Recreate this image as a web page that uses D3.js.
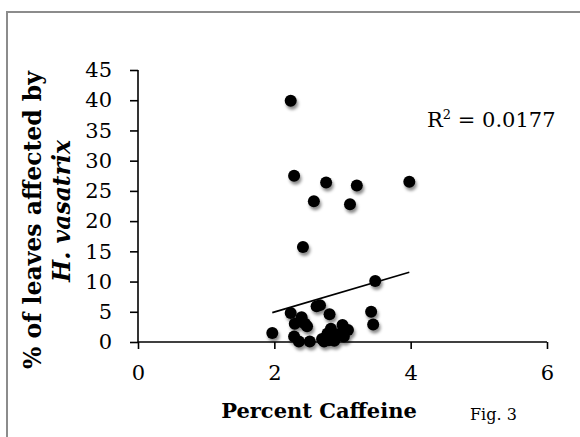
<!DOCTYPE html>
<html>
<head>
<meta charset="utf-8">
<script src="https://cdn.jsdelivr.net/npm/d3@7"></script>
<style>
  html, body { margin: 0; padding: 0; background: #fff; }
  svg { display: block; }
</style>
</head>
<body>
<div id="chart"></div>
<script>
// values
const caffeine = [2.24, 2.29, 2.76, 3.21, 3.98, 2.58, 3.11, 2.42, 3.48, 2.62, 2.67,
  2.24, 2.81, 3.42, 3.45, 1.97, 2.40, 2.30, 2.41, 2.48, 2.45, 2.29, 2.36, 2.52,
  3.00, 3.08, 2.83, 2.78, 2.73, 2.80, 2.85, 2.90, 2.97, 2.76, 2.88, 3.02, 2.70];
const affected = [39.9, 27.5, 26.4, 25.9, 26.5, 23.3, 22.8, 15.7, 10.1, 5.9, 6.1,
  4.8, 4.6, 5.0, 2.9, 1.5, 4.1, 3.0, 3.3, 2.6, 3.0, 0.9, 0.1, 0.1,
  2.8, 2.0, 2.2, 1.4, 0.1, 0.3, 0.6, 1.1, 1.4, 0.8, 0.2, 0.9, 0.5];
const xTicks = [0, 2, 4, 6];
const yTicks = [0, 5, 10, 15, 20, 25, 30, 35, 40, 45];
// linear trendline shown in the figure, over the data's x range
const trendSlope = 3.33;
const trendIntercept = -1.7;
const rSquared = "0.0177";

const width = 580, height = 437;
const margin = { top: 70, right: 33, bottom: 95, left: 138 };
const font = "'DejaVu Serif', 'Liberation Serif', serif";

const points = caffeine.map((c, i) => ({ x: c, y: affected[i] }));

const x = d3.scaleLinear().domain([0, 6]).range([margin.left, width - margin.right]);
const y = d3.scaleLinear().domain([0, 45]).range([height - margin.bottom, margin.top]);

const svg = d3.select("#chart").append("svg")
  .attr("width", width)
  .attr("height", height)
  .attr("font-family", font);

// drop shadow under the markers
const shadow = svg.append("defs").append("filter")
  .attr("id", "shadow")
  .attr("x", "-50%").attr("y", "-50%")
  .attr("width", "200%").attr("height", "200%");
shadow.append("feDropShadow")
  .attr("dx", 1.5).attr("dy", 3)
  .attr("stdDeviation", 1.6)
  .attr("flood-color", "#000")
  .attr("flood-opacity", 0.45);

// outer frame (only top and left edges show)
svg.append("path")
  .attr("d", `M7,${height} V12 H${width}`)
  .attr("fill", "none")
  .attr("stroke", "#8c8c8c")
  .attr("stroke-width", 2);

// axes
const xAxis = svg.append("g")
  .attr("transform", `translate(0,${y(0)})`)
  .call(d3.axisBottom(x).tickValues(xTicks).tickFormat(d3.format("d"))
    .tickSize(7).tickPadding(16));

const yAxis = svg.append("g")
  .attr("transform", `translate(${x(0)},0)`)
  .call(d3.axisLeft(y).tickValues(yTicks).tickFormat(d3.format("d"))
    .tickSize(8).tickPadding(18));

[xAxis, yAxis].forEach(g => {
  g.select(".domain").attr("stroke", "#000").attr("stroke-width", 1.6);
  g.selectAll(".tick line").attr("stroke", "#000").attr("stroke-width", 1.6);
  g.selectAll(".tick text")
    .attr("fill", "#000")
    .attr("font-size", 21)
    .attr("font-family", font);
});
xAxis.select(".domain").attr("d", `M${x(0)},0H${x(6)}`);
yAxis.select(".domain").attr("d", `M0,${y(45)}V${y(0)}`);

// points
svg.append("g")
  .attr("filter", "url(#shadow)")
  .selectAll("circle")
  .data(points)
  .join("circle")
  .attr("cx", d => x(d.x))
  .attr("cy", d => y(d.y))
  .attr("r", 6)
  .attr("fill", "#000");

// trendline
const [xmin, xmax] = d3.extent(caffeine);
svg.append("line")
  .attr("x1", x(xmin)).attr("y1", y(trendSlope * xmin + trendIntercept))
  .attr("x2", x(xmax)).attr("y2", y(trendSlope * xmax + trendIntercept))
  .attr("stroke", "#000")
  .attr("stroke-width", 1.6);

// R squared label
const r2 = svg.append("text")
  .attr("x", 427).attr("y", 127)
  .attr("font-size", 21)
  .attr("fill", "#000");
r2.append("tspan").text("R");
r2.append("tspan").attr("font-size", 13).attr("dy", -8).text("2");
r2.append("tspan").attr("dy", 8).text(" = " + rSquared);

// axis titles
svg.append("text")
  .attr("x", 319).attr("y", 418)
  .attr("text-anchor", "middle")
  .attr("font-size", 21)
  .attr("font-weight", "bold")
  .text("Percent Caffeine");

svg.append("text")
  .attr("x", 470).attr("y", 420)
  .attr("font-size", 16)
  .text("Fig. 3");

const yTitle = svg.append("text")
  .attr("transform", "translate(41,220) rotate(-90)")
  .attr("text-anchor", "middle")
  .attr("font-size", 23.5)
  .attr("font-weight", "bold");
yTitle.append("tspan").attr("x", 0).attr("y", 0).text("% of leaves affected by");
yTitle.append("tspan").attr("x", 9).attr("y", 29)
  .attr("font-style", "italic").text("H. vasatrix");
</script>
</body>
</html>
